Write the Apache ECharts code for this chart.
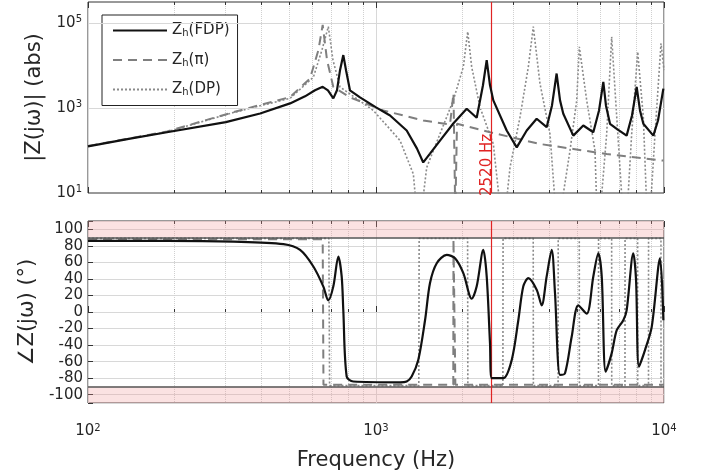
<!DOCTYPE html>
<html>
<head>
<meta charset="utf-8">
<script src="https://cdn.jsdelivr.net/npm/echarts@6/dist/echarts.min.js"></script>
<style>
  html, body { margin: 0; padding: 0; background: #fff; }
  #chart { width: 706px; height: 475px; }
</style>
</head>
<body>
<div id="chart"></div>
<script>
/** magnitude |Z(jw)| */
const fdpMagFreq = [100, 140, 188, 301, 396, 503, 567, 614, 653, 681, 711, 732, 750, 770, 787, 812, 880, 1000, 1119, 1278, 1388, 1459, 1540, 1668, 1855, 2065, 2237, 2352, 2423, 2488, 2555, 2843, 3081, 3337, 3613, 3914, 4084, 4238, 4355, 4470, 4842, 5245, 5683, 5948, 6156, 6287, 6494, 6853, 7418, 7743, 8037, 8254, 8477, 9183, 9532, 9950];
const fdpMag = [126, 191, 270, 466, 748, 1291, 1892, 2626, 3178, 2626, 1698, 2626, 7820, 17740, 7820, 2626, 1794, 1040, 671, 296, 111, 52.5, 84.5, 172, 434, 968, 593, 3451, 13490, 3451, 1521, 296, 119, 296, 561, 355, 1159, 6531, 1521, 737, 225, 389, 270, 882, 4130, 1159, 427, 325, 225, 671, 3146, 882, 427, 225, 511, 2884];

const piMagFreq = [100, 188, 320, 503, 590, 631, 653, 676, 711, 812, 1060, 1459, 1807, 1858, 1885, 1911, 2488, 3710, 4842, 6324, 9950];
const piMag = [128, 281, 804, 1823, 4977, 23300, 91200, 13490, 3146, 1794, 882, 511, 411, 2230, 3, 427, 270, 143, 109, 83, 58];

const dpMagFreq = [100, 188, 320, 503, 606, 649, 683, 709, 750, 979, 1212, 1348, 1388, 1433, 1500, 1668, 1855, 2010, 2082, 2149, 2296, 2555, 2716, 2805, 2920, 3162, 3380, 3517, 3710, 4019, 4217, 4355, 4716, 4977, 5081, 5390, 5760, 5853, 5995, 6324, 6581, 6853, 7203, 7437, 7723, 8103, 8477, 8730, 8942, 9307, 9763, 10000];
const dpMag = [128, 275, 790, 1698, 5335, 23300, 83000, 13490, 3146, 882, 172, 27.9, 3, 3, 40, 247, 1521, 9370, 63200, 9370, 1056, 143, 3, 3, 40, 612, 9370, 83000, 3787, 247, 3, 3, 99.5, 1521, 27900, 1521, 99.5, 3, 3, 247, 48100, 612, 3, 3, 247, 21200, 612, 3, 3, 247, 33600, 7820];

/** phase angle in degrees */
const fdpPhaseFreq = [100, 188, 320, 477, 545, 606, 656, 683, 711, 740, 760, 770, 791, 834, 1212, 1278, 1330, 1402, 1480, 1540, 1625, 1760, 1881, 2010, 2149, 2237, 2358, 2423, 2488, 2522, 2767, 2960, 3120, 3247, 3380, 3613, 3761, 3914, 4074, 4183, 4355, 4532, 4780, 5040, 5390, 5683, 5915, 6078, 6274, 6581, 6853, 7222, 7418, 7823, 7994, 8188, 8590, 9066, 9685, 9950];
const fdpPhase = [86, 86, 85, 82, 75, 55, 31, 14, 31, 67, 43, 2, -78, -84, -85, -84, -78, -58, -10, 35, 59, 69, 65, 47, 16, 31, 75, 43, -38, -80, -80, -58, -10, 31, 41, 27, 8, 43, 75, 23, -76, -74, -30, 8, -2, 43, 71, 43, -72, -50, -22, -10, 2, 71, 40, -66, -46, -18, 65, -10];

const piPhaseFreq = [100, 653, 657, 1855, 1858, 1882, 1886, 10000];
const piPhase = [88, 88, -88, -88, 88, 88, -88, -88];

const dpPhaseFreq = [100, 686, 690, 1408, 1412, 2080, 2084, 2758, 2762, 3515, 3519, 4288, 4292, 5080, 5084, 5922, 5926, 6580, 6584, 7320, 7324, 8100, 8104, 8834, 8838, 9760, 9764, 10000];
const dpPhase = [89, 89, -89, -89, 89, 89, -89, -89, 89, 89, -89, -89, 89, 89, -89, -89, 89, 89, -89, -89, 89, 89, -89, -89, 89, 89, -89, -89];

/** labels and marks */
const magLabelExps = [1, 3, 5];
const freqLabelExps = [2, 3, 4];
const magGridValues = [1000, 100000];
const phaseBand = [90, 110];
const markFreq = 2520;
const seriesNames = ['Zh(FDP)', 'Zh(π)', 'Zh(DP)'];
const legendText = { 'Zh(FDP)': '(FDP)', 'Zh(π)': '(π)', 'Zh(DP)': '(DP)' };

const FONT = 'DejaVu Sans';
const TXT = '#262626';
const RED = '#e02424';

const chart = echarts.init(document.getElementById('chart'));

function pairs(xs, ys) {
  return xs.map((x, i) => [x, ys[i]]);
}

const supRich = {
  b: { fontSize: 15, fontFamily: FONT, color: TXT },
  s: { fontSize: 10, fontFamily: FONT, color: TXT, verticalAlign: 'top', padding: [0, 0, 7, 0] }
};

function expOf(v) {
  const e = Math.round(Math.log10(v));
  return Math.abs(Math.log10(v) - e) < 1e-6 ? e : null;
}

function freqAxis(gridIndex, position, withLabels) {
  return {
    type: 'log', gridIndex: gridIndex, position: position, min: 100, max: 10000,
    axisLine: { show: false },
    axisTick: { show: true, inside: true, length: 6, lineStyle: { color: '#333' } },
    minorTick: { show: true, splitNumber: 9, length: 3, lineStyle: { color: '#333' } },
    splitLine: { show: position === 'bottom', lineStyle: { color: '#d8d8d8' } },
    minorSplitLine: { show: position === 'bottom', lineStyle: { color: '#d0d0d0', type: 'dotted' } },
    axisLabel: withLabels ? {
      margin: 20,
      formatter: v => (freqLabelExps.includes(expOf(v)) ? '{b|10}{s|' + expOf(v) + '}' : ''),
      rich: supRich
    } : { show: false },
    name: withLabels ? 'Frequency (Hz)' : '',
    nameLocation: 'middle', nameGap: 47,
    nameTextStyle: { fontSize: 21, fontFamily: FONT, color: TXT }
  };
}

const lineBase = { type: 'line', symbol: 'none', showSymbol: false, animation: false, silent: true };

function curve(name, xi, yi, z, xs, ys, color, width, dash) {
  return Object.assign({}, lineBase, {
    name: name, xAxisIndex: xi, yAxisIndex: yi, z: z,
    data: pairs(xs, ys),
    color: color,
    itemStyle: { color: color },
    lineStyle: { color: color, width: width, type: dash }
  });
}

function redLine(xi, yi, withLabel) {
  return Object.assign({}, lineBase, {
    name: 'mark' + xi, xAxisIndex: xi, yAxisIndex: yi, data: [], z: 8,
    color: RED, itemStyle: { color: RED },
    markLine: {
      silent: true, symbol: ['none', 'none'],
      itemStyle: { color: RED },
      lineStyle: { color: RED, type: 'solid', width: 1.2, opacity: 1 },
      label: {
        show: withLabel, position: 'insideStartTop', distance: -3,
        formatter: markFreq + ' Hz', color: RED, fontSize: 15, fontFamily: FONT
      },
      data: [{ xAxis: markFreq, lineStyle: { color: RED, width: 1.2 } }]
    }
  });
}

const option = {
  animation: false,
  grid: [
    { left: 88, top: 2, width: 576, height: 191, show: true, borderColor: '#333', borderWidth: 1, backgroundColor: '#fff' },
    { left: 88, top: 221, width: 576, height: 182, show: true, borderColor: '#333', borderWidth: 1, backgroundColor: '#fff' }
  ],
  legend: {
    data: seriesNames,
    orient: 'vertical', left: 102, top: 15,
    itemWidth: 54, itemHeight: 14, itemGap: 14,
    padding: [8, 8, 8, 10],
    borderColor: '#222', borderWidth: 1, backgroundColor: '#fff', borderRadius: 0,
    selectedMode: false,
    itemStyle: { opacity: 0 },
    formatter: n => '{n|Z}{s|h}{n|' + legendText[n] + '}',
    textStyle: {
      rich: {
        n: { fontSize: 15, fontFamily: FONT, color: TXT },
        s: { fontSize: 10, fontFamily: FONT, color: TXT, verticalAlign: 'bottom', padding: [6, 0, 0, 0] }
      }
    }
  },
  xAxis: [
    freqAxis(0, 'bottom', false),
    freqAxis(0, 'top', false),
    freqAxis(1, 'bottom', true),
    freqAxis(1, 'top', false)
  ],
  yAxis: [
    {
      type: 'log', gridIndex: 0, min: 10, max: 316228,
      axisLine: { show: false }, axisTick: { show: false }, splitLine: { show: false },
      axisLabel: {
        margin: 6,
        formatter: v => (magLabelExps.includes(expOf(v)) ? '{b|10}{s|' + expOf(v) + '}' : ''),
        rich: supRich
      },
      name: '|Z(jω)| (abs)', nameLocation: 'middle', nameGap: 43, nameRotate: 90,
      nameTextStyle: { fontSize: 21, fontFamily: FONT, color: TXT }
    },
    {
      type: 'value', gridIndex: 1, min: -110, max: 110, splitNumber: 11, minInterval: 20, maxInterval: 20,
      axisLine: { show: false },
      axisTick: { show: true, inside: true, length: 5, lineStyle: { color: '#333' } },
      splitLine: { show: true, lineStyle: { color: '#d8d8d8' } },
      axisLabel: {
        margin: 5, fontSize: 15, fontFamily: FONT, color: TXT,
        formatter: v => (Math.abs(v) > 105 ? '' : String(v))
      },
      name: '∠Z(jω) (°)', nameLocation: 'middle', nameGap: 43, nameRotate: 90,
      nameTextStyle: { fontSize: 21, fontFamily: FONT, color: TXT }
    }
  ],
  series: [
    // background marks for the magnitude plot
    Object.assign({}, lineBase, {
      name: 'gridTop', xAxisIndex: 0, yAxisIndex: 0, data: [], z: 1,
      markLine: {
        silent: true, symbol: ['none', 'none'], label: { show: false },
        lineStyle: { color: '#d8d8d8', type: 'solid', width: 1 },
        data: magGridValues.map(v => ({ yAxis: v }))
      }
    }),
    // pink bands and +-90 borders in the phase plot
    Object.assign({}, lineBase, {
      name: 'bands', xAxisIndex: 2, yAxisIndex: 1, data: [], z: 1,
      markArea: {
        silent: true,
        itemStyle: { color: 'rgba(240,150,150,0.28)' },
        data: [
          [{ yAxis: phaseBand[0] }, { yAxis: phaseBand[1] }],
          [{ yAxis: -phaseBand[1] }, { yAxis: -phaseBand[0] }]
        ]
      },
      markLine: {
        silent: true, symbol: ['none', 'none'], label: { show: false },
        lineStyle: { color: '#555', type: 'solid', width: 1.5 },
        data: [{ yAxis: phaseBand[0] }, { yAxis: -phaseBand[0] }]
      }
    }),
    // magnitude curves
    curve(seriesNames[2], 0, 0, 3, dpMagFreq, dpMag, '#8a8a8a', 1.6, [2, 2]),
    curve(seriesNames[1], 0, 0, 4, piMagFreq, piMag, '#7f7f7f', 2, [9, 6]),
    curve(seriesNames[0], 0, 0, 5, fdpMagFreq, fdpMag, '#111111', 2.2, 'solid'),
    // phase curves
    curve(seriesNames[2], 2, 1, 3, dpPhaseFreq, dpPhase, '#8a8a8a', 1.6, [2, 2]),
    curve(seriesNames[1], 2, 1, 4, piPhaseFreq, piPhase, '#7f7f7f', 2, [9, 6]),
    Object.assign(curve(seriesNames[0], 2, 1, 5, fdpPhaseFreq, fdpPhase, '#111111', 2.2, 'solid'), { smooth: 0.3 }),
    // red marker line at 2520 Hz
    redLine(0, 0, true),
    redLine(2, 1, false)
  ]
};

chart.setOption(option);
</script>
</body>
</html>
